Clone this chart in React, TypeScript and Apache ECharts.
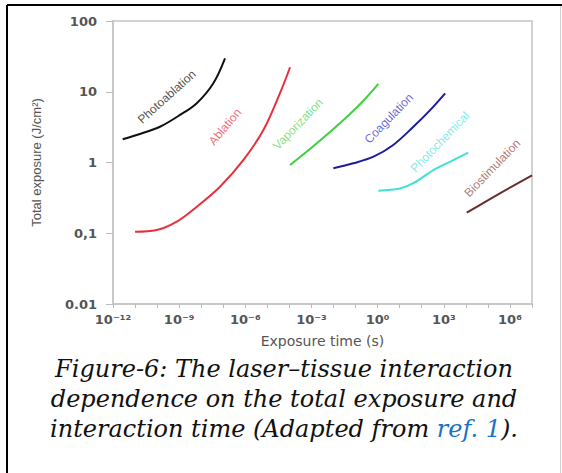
import React, { useEffect, useRef } from 'react';
import * as echarts from 'echarts';

// ---- tick labels ----
const xTickExponents = [-12, -9, -6, -3, 0, 3, 6];
const xTickLabels = ['10⁻¹²', '10⁻⁹', '10⁻⁶', '10⁻³', '10⁰', '10³', '10⁶'];
const yTickValues = [0.01, 0.1, 1, 10, 100];
const yTickLabels = ['0.01', '0,1', '1', '10', '100'];

// ---- series: exposure time (s) and total exposure (J/cm²) ----
const photoablationTime = [2.75e-12, 1.66e-11, 1.35e-10, 1.1e-9, 6.3e-9, 3.55e-8, 1.2e-7];
const photoablationExposure = [2.13, 2.53, 3.2, 4.7, 6.9, 13.2, 29.7];

const ablationTime = [1e-11, 9.5e-11, 7.8e-10, 6.3e-9, 7.1e-8, 8.1e-7, 6.6e-6, 3.7e-5, 1.07e-4];
const ablationExposure = [0.105, 0.111, 0.146, 0.237, 0.455, 1.08, 2.88, 9.5, 22.2];

const vaporizationTime = [1.07e-4, 8.5e-4, 6.9e-3, 5.6e-2, 0.27, 1.07];
const vaporizationExposure = [0.92, 1.55, 2.7, 4.85, 7.9, 12.9];

const coagulationTime = [9.8e-3, 7.9e-2, 0.65, 5.1, 41.7, 240, 1150];
const coagulationExposure = [0.83, 0.975, 1.21, 1.77, 3.2, 5.5, 9.5];

const photochemicalTime = [1.07, 10.5, 41.7, 339, 2690, 12900];
const photochemicalExposure = [0.4, 0.43, 0.51, 0.78, 1.08, 1.38];

const biostimulationTime = [1.1e4, 3.5e5, 1e7];
const biostimulationExposure = [0.195, 0.367, 0.66];

// ---- curve label anchors (time, exposure) ----
const labelNames = ['Photoablation', 'Ablation', 'Vaporization', 'Coagulation', 'Photochemical', 'Biostimulation'];
const labelTime = [2.75e-10, 1.2e-7, 2.45e-4, 3.2, 676, 1.6e5];
const labelExposure = [8.5, 3.2, 3.5, 4.2, 1.95, 0.835];
const labelAngle = [42, 50, 46, 46, 46, 46];
const labelColors = ['#222222', '#f04452', '#62dc62', '#4545cc', '#62e4e4', '#9a5656'];

const lineColors = ['#111111', '#e8303c', '#3fcf3f', '#1c1c9c', '#40e0d8', '#6a2c2c'];

const seriesList = [
  { name: 'Photoablation', t: photoablationTime, e: photoablationExposure },
  { name: 'Ablation', t: ablationTime, e: ablationExposure },
  { name: 'Vaporization', t: vaporizationTime, e: vaporizationExposure },
  { name: 'Coagulation', t: coagulationTime, e: coagulationExposure },
  { name: 'Photochemical', t: photochemicalTime, e: photochemicalExposure },
  { name: 'Biostimulation', t: biostimulationTime, e: biostimulationExposure },
];

export default function App() {
  const ref = useRef<HTMLDivElement>(null);

  useEffect(() => {
    if (!ref.current) return;
    const chart = echarts.init(ref.current, undefined, { renderer: 'svg' });

    const lineSeries = seriesList.map((s, i) => ({
      name: s.name,
      type: 'line',
      data: s.t.map((t, k) => [Math.log10(t), s.e[k]]),
      showSymbol: false,
      smooth: 0.35,
      lineStyle: { width: 2, color: lineColors[i] },
      itemStyle: { color: lineColors[i] },
      silent: true,
      z: 3,
    }));

    const labelSeries = {
      type: 'scatter',
      symbolSize: 1,
      itemStyle: { color: 'transparent' },
      silent: true,
      z: 4,
      data: labelNames.map((n, i) => ({
        name: n,
        value: [Math.log10(labelTime[i]), labelExposure[i]],
        label: { color: labelColors[i], rotate: labelAngle[i] },
      })),
      label: {
        show: true,
        position: 'inside',
        formatter: (p: any) => p.name,
        fontFamily: '"Liberation Sans", Arial, sans-serif',
        fontSize: 12,
        align: 'center',
        verticalAlign: 'middle',
      },
    };

    const tickFont = { fontFamily: '"DejaVu Sans", sans-serif', fontSize: 13, fontWeight: 'bold', color: '#555' };
    const capFont = '"DejaVu Serif", serif';

    chart.setOption({
      animation: false,
      backgroundColor: '#ffffff',
      grid: {
        left: 113,
        top: 21,
        right: 30,
        bottom: 169,
        show: true,
        borderColor: '#d2d2d2',
        borderWidth: 2,
        containLabel: false,
      },
      xAxis: {
        type: 'value',
        min: -12,
        max: 7,
        interval: 1,
        name: 'Exposure time (s)',
        nameLocation: 'middle',
        nameGap: 30,
        nameTextStyle: { fontFamily: '"DejaVu Sans", sans-serif', fontSize: 14, color: '#555' },
        axisLine: { show: true, onZero: false, lineStyle: { color: '#c8c8c8', width: 2 } },
        axisTick: { show: true, length: 4, lineStyle: { color: '#bbbbbb', width: 1 } },
        splitLine: { show: false },
        axisLabel: {
          ...tickFont,
          margin: 9,
          showMinLabel: true,
          showMaxLabel: true,
          formatter: (v: number) => {
            const idx = xTickExponents.findIndex((x) => Math.abs(x - v) < 1e-6);
            return idx >= 0 ? xTickLabels[idx] : '';
          },
        },
      },
      yAxis: {
        type: 'log',
        logBase: 10,
        min: 0.01,
        max: 100,
        name: 'Total exposure (J/cm²)',
        nameLocation: 'middle',
        nameGap: 70,
        nameTextStyle: { fontFamily: '"Liberation Sans", Arial, sans-serif', fontSize: 13, color: '#555' },
        axisLine: { show: true, onZero: false, lineStyle: { color: '#c8c8c8', width: 2 } },
        axisTick: { show: true, length: 7, lineStyle: { color: '#bbbbbb', width: 1 } },
        splitLine: { show: false },
        axisLabel: {
          ...tickFont,
          margin: 16,
          formatter: (v: number) => {
            const idx = yTickValues.findIndex((y) => Math.abs(Math.log10(y) - Math.log10(v)) < 1e-6);
            return idx >= 0 ? yTickLabels[idx] : '';
          },
        },
      },
      series: [...lineSeries, labelSeries],
      graphic: [
        { type: 'line', silent: true, shape: { x1: 7, y1: 5, x2: 562, y2: 5 }, style: { stroke: '#000', lineWidth: 2 } },
        { type: 'line', silent: true, shape: { x1: 7, y1: 5, x2: 7, y2: 473 }, style: { stroke: '#000', lineWidth: 2 } },
        { type: 'line', silent: true, shape: { x1: 560.5, y1: 6, x2: 560.5, y2: 473 }, style: { stroke: '#cfcfcf', lineWidth: 1 } },
        {
          type: 'text', silent: true, x: 284, y: 369,
          style: {
            text: 'Figure-6: The laser–tissue interaction',
            font: 'italic 24px "DejaVu Serif", serif', fill: '#111',
            textAlign: 'center', textVerticalAlign: 'middle',
          },
        },
        {
          type: 'text', silent: true, x: 284, y: 399,
          style: {
            text: 'dependence on the total exposure and',
            font: 'italic 24px "DejaVu Serif", serif', fill: '#111',
            textAlign: 'center', textVerticalAlign: 'middle',
          },
        },
        {
          type: 'text', silent: true, x: 284, y: 429,
          style: {
            text: '{a|interaction time (Adapted from }{b|ref. 1}{a|).}',
            textAlign: 'center', textVerticalAlign: 'middle',
            rich: {
              a: { fontFamily: capFont, fontStyle: 'italic', fontSize: 24, fill: '#111' },
              b: { fontFamily: capFont, fontStyle: 'italic', fontSize: 24, fill: '#1a73c4' },
            },
          },
        },
      ],
    });

    return () => chart.dispose();
  }, []);

  return <div ref={ref} style={{ position: 'absolute', left: 0, top: 0, width: 562, height: 473 }} />;
}
